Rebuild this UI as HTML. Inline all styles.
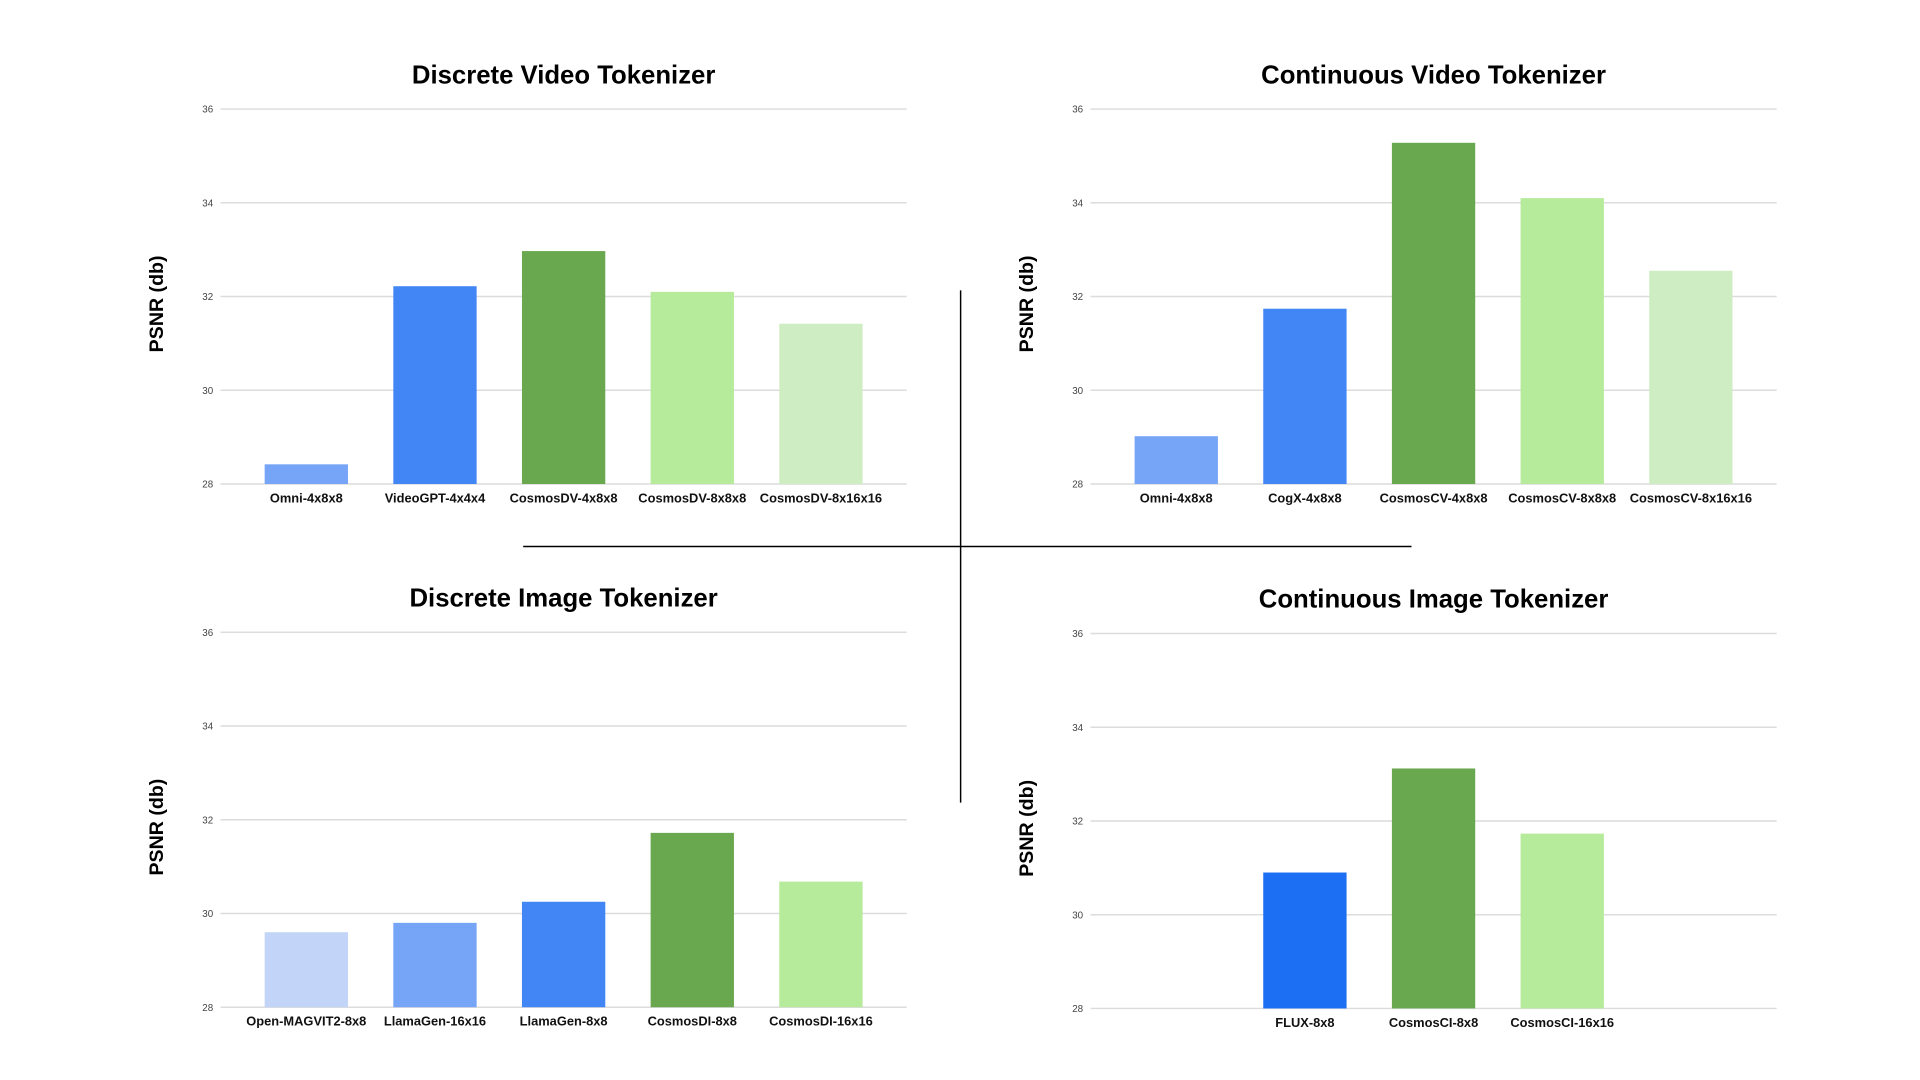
<!DOCTYPE html>
<html><head><meta charset="utf-8"><title>Tokenizer PSNR</title>
<style>
html,body{margin:0;padding:0;background:#fff;}
svg{display:block;}
.t{font-family:"Liberation Sans Narrow","Liberation Sans",sans-serif;font-weight:bold;font-size:21px;fill:#000;}
.tick{font-family:"Liberation Sans",sans-serif;font-size:8px;fill:#444;}
.cat{font-family:"Liberation Sans",sans-serif;font-weight:bold;font-size:10.5px;fill:#111;}
.ax{font-family:"Liberation Sans",sans-serif;font-weight:bold;font-size:16px;fill:#000;}
</style></head>
<body>
<svg id="fig" width="1920" height="1080" viewBox="0 0 1567 881.4" preserveAspectRatio="none">
<line x1="784" y1="237" x2="784" y2="655" stroke="#000" stroke-width="1.2"/>
<line x1="427" y1="446" x2="1152" y2="446" stroke="#000" stroke-width="1.2"/>
</svg>
<script>
const ticks = [28, 30, 32, 34, 36];
const dvCats = ["Omni-4x8x8","VideoGPT-4x4x4","CosmosDV-4x8x8","CosmosDV-8x8x8","CosmosDV-8x16x16"];
const dvVals = [28.42, 32.22, 32.97, 32.1, 31.42];
const cvCats = ["Omni-4x8x8","CogX-4x8x8","CosmosCV-4x8x8","CosmosCV-8x8x8","CosmosCV-8x16x16"];
const cvVals = [29.02, 31.74, 35.28, 34.1, 32.55];
const diCats = ["Open-MAGVIT2-8x8","LlamaGen-16x16","LlamaGen-8x8","CosmosDI-8x8","CosmosDI-16x16"];
const diVals = [29.6, 29.8, 30.25, 31.72, 30.68];
const ciCats = ["FLUX-8x8","CosmosCI-8x8","CosmosCI-16x16"];
const ciVals = [30.9, 33.12, 31.73];

const NS = "http://www.w3.org/2000/svg";
const svg = document.getElementById("fig");
function mk(tag, attrs, parent){
  const e = document.createElementNS(NS, tag);
  for (const k in attrs) e.setAttribute(k, attrs[k]);
  (parent||svg).appendChild(e);
  return e;
}
function chart(opt){
  const g = mk("g", {});
  
  
  const y0 = opt.top, y1 = opt.bottom;
  const yScale = v => y1 - (v - ticks[0]) / (ticks[ticks.length-1] - ticks[0]) * (y1 - y0);
  const mid = (opt.left + opt.right) / 2, step = 105, bw = 68;
  const xCenter = i => mid + (i - (opt.cats.length - 1) / 2) * step;
  const title = mk("text", {x: mid, y: opt.top - 21, "text-anchor": "middle", class: "t"}, g);
  title.textContent = opt.title;
  
  
  ticks.forEach(t => {
    const y = yScale(t);
    const l = mk("line", {x1: opt.left, x2: opt.right, y1: y, y2: y, stroke: "#dcdcdc", "stroke-width": 1.2}, g);
    
    
    const tl = mk("text", {x: opt.left - 6, y: y + 3, "text-anchor": "end", class: "tick"}, g);
    tl.textContent = t;
    
    
  });
  opt.vals.forEach((v, i) => {
    const cx = xCenter(i);
    const r = mk("rect", {x: cx - bw/2, y: yScale(v), width: bw, height: y1 - yScale(v), fill: opt.colors[i]}, g);
    
    
    const c = mk("text", {x: cx, y: y1 + 15, "text-anchor": "middle", class: "cat"}, g);
    c.textContent = opt.cats[i];
    
    
  });
  const ay = (y0 + y1) / 2;
  const at = mk("text", {x: opt.left - 53, y: ay, "text-anchor": "middle", class: "ax", transform: `rotate(-90 ${opt.left - 47} ${ay})`}, g);
  at.textContent = "PSNR (db)";
  
  
}
chart({name:"discrete-video-chart", title:"Discrete Video Tokenizer", left:180, right:740, top:89, bottom:395,
  cats:dvCats, vals:dvVals, colors:["#76a5f8","#4285f4","#6aa84f","#b6eb9b","#cfedc2"]});
chart({name:"continuous-video-chart", title:"Continuous Video Tokenizer", left:890, right:1450, top:89, bottom:395,
  cats:cvCats, vals:cvVals, colors:["#76a5f8","#4285f4","#6aa84f","#b6eb9b","#cfedc2"]});
chart({name:"discrete-image-chart", title:"Discrete Image Tokenizer", left:180, right:740, top:516, bottom:822,
  cats:diCats, vals:diVals, colors:["#c2d5f8","#76a5f8","#4285f4","#6aa84f","#b6eb9b"]});
chart({name:"continuous-image-chart", title:"Continuous Image Tokenizer", left:890, right:1450, top:517, bottom:823,
  cats:ciCats, vals:ciVals, colors:["#1c6ef2","#6aa84f","#b6eb9b"]});
</script>
</body></html>
